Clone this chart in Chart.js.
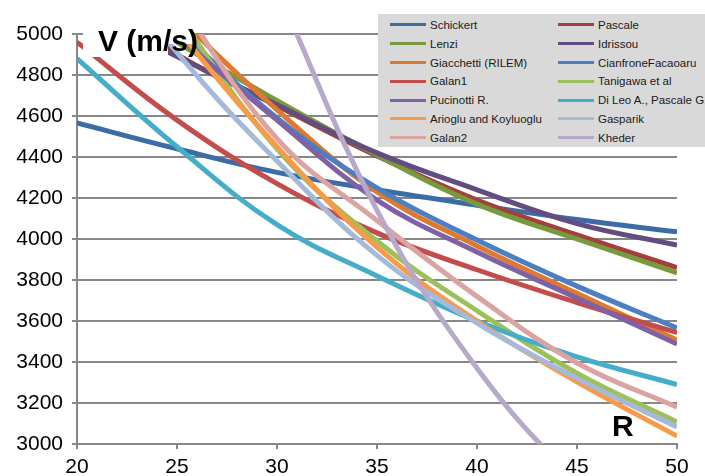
<!DOCTYPE html>
<html>
<head>
<meta charset="utf-8">
<script src="https://cdn.jsdelivr.net/npm/chart.js@4/dist/chart.umd.min.js"></script>
<style>
    html, body { margin: 0; padding: 0; background: #fff; overflow: hidden; }
    #wrap { position: relative; width: 705px; height: 476px; overflow: hidden; }
    #wrap canvas { position: absolute; left: 0; top: 0; }
    .mask { position: absolute; background: #fff; }
    .axis-title {
        position: absolute; margin: 0;
        font: bold 30px "Liberation Sans", Arial, sans-serif;
        line-height: 30px; color: #000; white-space: nowrap;
    }
    #legend {
        position: absolute; left: 378px; top: 14px; width: 340px; height: 133px;
        background: #d9d9d9;
        font: 11.5px "Liberation Sans", Arial, sans-serif; color: #1a1a1a;
    }
    #legend .item { position: absolute; height: 14px; line-height: 14px; white-space: nowrap; }
    #legend .swatch { display: inline-block; width: 36px; height: 3px; vertical-align: middle; margin-right: 4px; margin-top: -2px; }
</style>
</head>
<body>
<div id="wrap">
    <canvas id="chart" width="705" height="476"></canvas>
    <!-- белая подложка под подписью оси V -->
    <div class="mask" style="left:83px; top:22px; width:85px; height:35px;"></div>
    <div class="mask" style="left:168px; top:22px; width:26px; height:22px;"></div>
    <div class="axis-title" style="left:98px; top:26px;">V (m/s)</div>
    <div class="axis-title" style="left:612px; top:411px;">R</div>
    <div id="legend"></div>
</div>
<script>
'use strict';

// индекс отскока R
const R = [20, 25, 30, 35, 40, 45, 50];

// скорость ультразвука V (м/с) по каждой корреляции
const schickert  = [4566, 4440, 4325, 4240, 4165, 4095, 4035];
const pascale    = [5250, 4900, 4650, 4405, 4190, 4020, 3860];
const lenzi      = [5280, 4960, 4675, 4410, 4170, 4000, 3835];
const idrissou   = [5130, 4890, 4655, 4420, 4240, 4075, 3970];
const giacchetti = [5600, 5090, 4630, 4230, 3966, 3735, 3507];
const cianfrone  = [5550, 5035, 4590, 4249, 3995, 3770, 3566];
const galan1     = [4960, 4580, 4270, 4030, 3850, 3690, 3543];
const tanigawa   = [5800, 5100, 4440, 3990, 3650, 3345, 3107];
const pucinotti  = [5500, 5000, 4580, 4190, 3936, 3712, 3488];
const diLeo      = [4880, 4450, 4070, 3820, 3600, 3425, 3290];
const arioglu    = [5700, 5030, 4450, 3960, 3600, 3303, 3039];
const gasparik   = [5550, 4910, 4380, 3920, 3590, 3320, 3083];
const galan2     = [5950, 5180, 4490, 4090, 3720, 3395, 3180];
const kheder     = [null, null, 5220, 4140, 3370, 2820, 2420];

const names = [
    'Schickert', 'Pascale', 'Lenzi', 'Idrissou',
    'Giacchetti (RILEM)', 'CianfroneFacaoaru', 'Galan1', 'Tanigawa et al',
    'Pucinotti R.', 'Di Leo A., Pascale G.', 'Arioglu and Koyluoglu', 'Gasparik',
    'Galan2', 'Kheder',
];
const series = [
    schickert, pascale, lenzi, idrissou,
    giacchetti, cianfrone, galan1, tanigawa,
    pucinotti, diLeo, arioglu, gasparik,
    galan2, kheder,
];
const colors = [
    '#3c6ca5', '#a3403d', '#789a3e', '#634c7f',
    '#dd7a30', '#4b7fc1', '#c24d4a', '#9cc05a',
    '#7f62a6', '#46adc8', '#f89a48', '#a5b9da',
    '#dba3a2', '#b6a9ca',
];

const yTicks = { min: 3000, max: 5000, step: 200 };
const xTicks = { min: 20, max: 50, step: 5 };

const gridColor = '#878787';
const tickFont = { family: '"Liberation Sans", Arial, sans-serif', size: 21 };

// наборы данных: последняя серия рисуется поверх остальных
const datasets = series.map((vals, i) => ({
    label: names[i],
    data: R.map((r, j) => ({ x: r, y: vals[j] })),
    borderColor: colors[i],
    backgroundColor: colors[i],
    borderWidth: 5,
    pointRadius: 0,
    tension: 0.4,
    clip: 0,
    order: series.length - i,
}));

new Chart(document.getElementById('chart').getContext('2d'), {
    type: 'line',
    data: { datasets },
    options: {
        responsive: false,
        animation: false,
        layout: { padding: { top: 34, right: 28, left: 0, bottom: 0 } },
        plugins: {
            legend: { display: false },
            tooltip: { enabled: false },
        },
        scales: {
            x: {
                type: 'linear',
                min: xTicks.min,
                max: xTicks.max,
                ticks: {
                    stepSize: xTicks.step, color: '#000', font: tickFont,
                    padding: 6, maxRotation: 0,
                    callback: (v) => String(v),
                },
                grid: { drawOnChartArea: false, color: gridColor, lineWidth: 2, tickLength: 5 },
                border: { color: gridColor, width: 2 },
                afterFit: (scale) => { scale.height = 32; },
            },
            y: {
                min: yTicks.min,
                max: yTicks.max,
                ticks: {
                    stepSize: yTicks.step, color: '#000', font: tickFont, padding: 9,
                    callback: (v) => String(v),
                },
                grid: { color: gridColor, lineWidth: 2, tickLength: 5 },
                border: { color: gridColor, width: 2 },
                afterFit: (scale) => { scale.width = 77; },
            },
        },
    },
});

// легенда в две колонки
const legend = document.getElementById('legend');
names.forEach((name, i) => {
    const item = document.createElement('div');
    item.className = 'item';
    item.style.left = (i % 2 === 0 ? 12 : 180) + 'px';
    item.style.top = (4 + Math.floor(i / 2) * 18.8) + 'px';
    const swatch = document.createElement('span');
    swatch.className = 'swatch';
    swatch.style.background = colors[i];
    item.appendChild(swatch);
    item.appendChild(document.createTextNode(name));
    legend.appendChild(item);
});
</script>
</body>
</html>
